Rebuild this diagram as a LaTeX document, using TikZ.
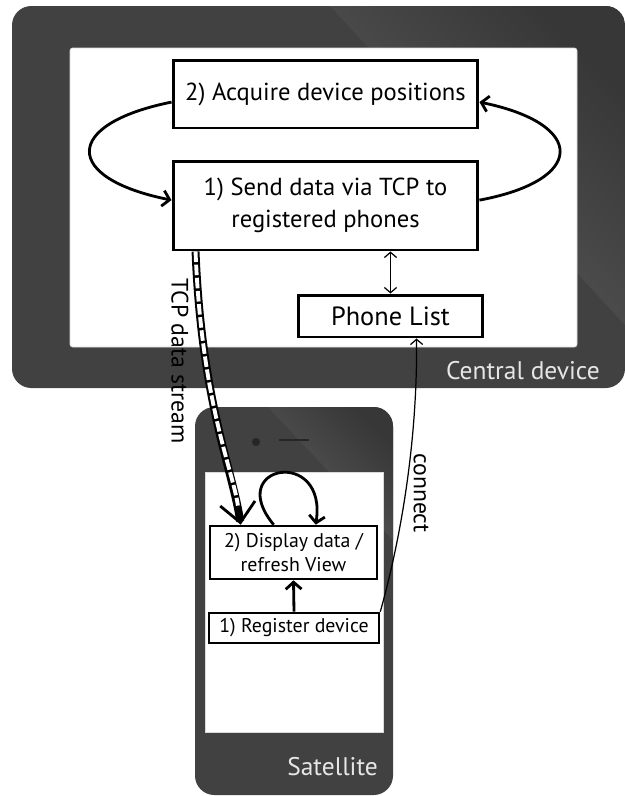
\documentclass[tikz,border=0pt]{standalone}
\usepackage{fontspec}
\setmainfont{PT Sans}
\usetikzlibrary{arrows.meta,calc}

\definecolor{framegray}{HTML}{414141}
\definecolor{framelight}{HTML}{5C5C5C}
\definecolor{labelgray}{HTML}{E6E6E6}

\begin{document}
\begin{tikzpicture}[x=0.02cm, y=-0.02cm,
  box/.style={draw, fill=white, align=center, inner sep=0pt},
  bigbox/.style={box, line width=1.7pt, font=\fontsize{14}{18}\selectfont},
  smallbox/.style={box, line width=1.5pt, font=\fontsize{11.3}{13.6}\selectfont},
  flow/.style={line width=1.6pt, -{Straight Barb[length=4pt,width=9pt]}},
  thinflow/.style={line width=0.7pt},
  stream/.style={line width=4.5pt, -{Straight Barb[length=11pt,width=20pt,line width=1.6pt]},
    postaction={draw=white, line width=2.2pt, dash pattern=on 6pt off 1.5pt, shorten >=11pt, -}},
  devlabel/.style={text=labelgray, font=\fontsize{14.5}{16}\selectfont, anchor=base east},
  sidelabel/.style={font=\fontsize{13.5}{16}\selectfont, rotate=-90}
]
\useasboundingbox (0,0) rectangle (625,796);

% tablet
\fill[framegray, rounded corners=11pt] (12,6) rectangle (625,388);
\begin{scope}
\clip[rounded corners=11pt] (12,6) rectangle (625,388);
\shade[top color=framelight, bottom color=framegray!85!black, shading angle=135]
  (330,6) -- (625,6) -- (625,325) -- cycle;
\end{scope}
\fill[white, draw=black!15, rounded corners=1.5pt] (70,48) rectangle (577,347);

% phone
\fill[framegray, rounded corners=11pt] (195,407) rectangle (393,795);
\begin{scope}
\clip[rounded corners=11pt] (195,407) rectangle (393,795);
\shade[top color=framelight, bottom color=framegray!85!black, shading angle=135]
  (268,407) -- (393,407) -- (393,540) -- cycle;
\end{scope}
\fill[white, draw=black!15] (205,472) rectangle (383,732);
\fill[black!85] (256,442) circle[radius=2.3pt];
\draw[black!85, line width=1pt] (279,440) -- (309,440);

\node[devlabel] (centrallabel) at (606,379) {Central device};
\node[devlabel] (satellitelabel) at (384,775) {Satellite};

% boxes
\node[bigbox, minimum width=6.1cm, minimum height=1.36cm] (acquire) at (325.5,94) {2) Acquire device positions};
\node[bigbox, minimum width=6.1cm, minimum height=1.78cm] (send) at (325.5,205.5) {1) Send data via TCP to\\registered phones};
\node[bigbox, minimum width=3.7cm, minimum height=0.84cm, font=\fontsize{15}{18}\selectfont] (phonelist) at (390.5,316) {Phone List};
\node[smallbox, minimum width=3.34cm, minimum height=1.06cm] (display) at (293.5,552.5) {2) Display data /\\refresh View};
\node[smallbox, minimum width=3.4cm, minimum height=0.6cm] (register) at (294,628) {1) Register device};

% connectors
\draw[flow] (acquire.183) .. controls +(-109,22) and +(-109,-22) .. (send.178);
\draw[flow] (send.2) .. controls +(107,-20) and +(107,22) .. (acquire.357);
\draw[thinflow, {Straight Barb[length=3pt,width=7pt]}-{Straight Barb[length=3pt,width=7pt]}]
  (send.south -| phonelist.north) -- (phonelist.north);

\draw[stream] ($(send.south west)+(24,0)$) .. controls +(6,150) and +(-8,-55) .. ($(display.north west)+(32,0)$);
\node[sidelabel] (tcplabel) at (180,361) {TCP data stream};

\draw[flow] ($(display.north west)+(65,0)$) .. controls +(-50,-60) and +(12,-78) .. ($(display.north west)+(107,0)$);
\draw[flow] (register.north) -- (display.south);

\draw[thinflow, -{Straight Barb[length=3pt,width=7pt]}] (register.north east) .. controls +(26,-93) and +(1,83) .. ($(phonelist.south)+(26,0)$);
\node[sidelabel] (connectlabel) at (421,493) {connect};

\end{tikzpicture}
\end{document}
